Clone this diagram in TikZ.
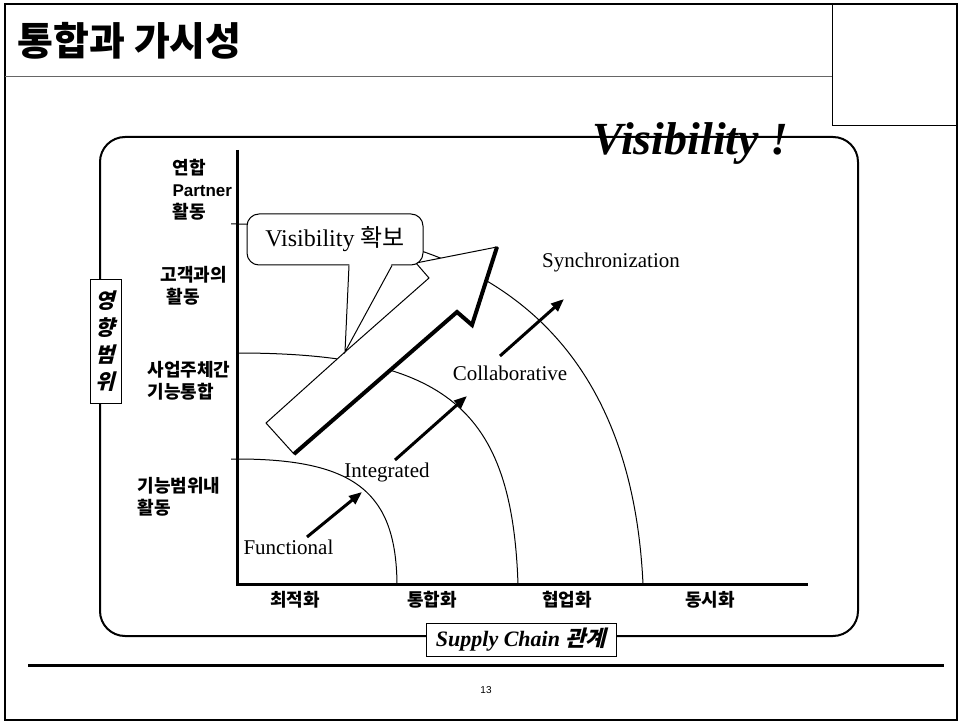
\documentclass[tikz,border=0pt]{standalone}
\usepackage{fontspec}
\setmainfont{Liberation Serif}
\newfontfamily\arial{Liberation Sans}
\newfontfamily\cjk{Noto Sans CJK KR}
\newfontfamily\cjkit{Noto Sans CJK KR}[FakeSlant=0.25]
\usetikzlibrary{arrows.meta}

\tikzset{
  axisline/.style={line width=3pt},
  curveline/.style={line width=1pt},
  growarrow/.style={line width=3pt,-{Triangle[length=13pt,width=10pt]}},
  stagelab/.style={font=\fontsize{21}{21}\selectfont},
  ylab/.style={font=\cjk\bfseries\fontsize{18}{22}\selectfont, align=left, anchor=west},
  xlab/.style={font=\cjk\bfseries\fontsize{18}{18}\selectfont},
  labbox/.style={draw, fill=white, line width=1pt, inner sep=0pt},
}

\begin{document}
\begin{tikzpicture}[x=1pt,y=-1pt]
  \useasboundingbox (0,0) rectangle (959,722);
  % frame of the page
  \draw[line width=1.5pt] (5,4) rectangle (957,720);
  \draw[line width=0.8pt] (832,4) rectangle (957,125);
  \draw[line width=0.8pt, black!60] (5,76) -- (832,76);
  \draw[line width=3pt] (28,665) -- (944,665);

  \node[anchor=west, font=\cjk\bfseries\fontsize{39}{39}\selectfont] (title) at (14,41) {통합과 가시성};
  \node[anchor=base east, font=\bfseries\itshape\fontsize{46}{46}\selectfont] (visib) at (792,155) {Visibility !};

  \draw[line width=2pt, rounded corners=25pt] (100,137) rectangle (858,636);

  % curves
  \draw[curveline] (231,459) -- (237,459) .. controls (357,459) and (396,494) .. (397,584);
  \draw[curveline] (237,353) .. controls (448,353) and (512,410) .. (518,584);
  \draw[curveline] (231,224) -- (237,224) .. controls (501,224) and (632,350) .. (643,584);

  % axes
  \draw[axisline] (237,150) -- (237,584) -- (808,584);

  % the big arrow
  \coordinate (ctip) at (345,352);
  \filldraw[fill=white, line width=1pt] (266,423) -- (ctip) -- (429,278) -- (416,263) -- (497,247)
      -- (472,325) -- (457,312) -- (294,454) -- cycle;
  \draw[line width=4pt] (294,454) -- (457,312) -- (472,325) -- (497,247);

  % callout
  \node[draw, fill=white, line width=1pt, rounded corners=12pt, minimum width=176pt, minimum height=51pt,
        font=\fontsize{24}{24}\selectfont] (callout) at (335,239.5) {Visibility {\cjk 확보}};
  \fill[white] ([xshift=14.5pt,yshift=1.5pt]callout.south) -- (ctip) -- ([xshift=56.5pt,yshift=1.5pt]callout.south) -- cycle;
  \draw[line width=1pt] ([xshift=14pt]callout.south) -- (ctip) -- ([xshift=57pt]callout.south);

  % stage labels and arrows
  \node[stagelab, anchor=west] (funclab) at (240,547) {Functional};
  \node[stagelab] (intlab) at (387,472) {Integrated};
  \node[stagelab] (collab) at (510,373) {Collaborative};
  \node[stagelab] (synclab) at (611,262) {Synchronization};
  \coordinate (f0) at (307,537); \coordinate (f1) at (362,492);
  \coordinate (i0) at (395,460); \coordinate (i1) at (467,396);
  \coordinate (c0) at (500,356); \coordinate (c1) at (564,299);
  \draw[growarrow] (f0) -- (f1);
  \draw[growarrow] (i0) -- (i1);
  \draw[growarrow] (c0) -- (c1);

  % y axis labels
  \node[ylab] (yl4) at (169,190) {연합\\{\arial\fontsize{17}{22}\selectfont Partner}\\활동};
  \node[ylab] (yl3) at (157,286) {고객과의\\\hspace{6pt}활동};
  \node[ylab] (yl2) at (144,381) {사업주체간\\기능통합};
  \node[ylab] (yl1) at (134,497) {기능범위내\\활동};

  % x axis labels
  \node[xlab] (xl1) at (295,600) {최적화};
  \node[xlab] (xl2) at (432,600) {통합화};
  \node[xlab] (xl3) at (567,600) {협업화};
  \node[xlab] (xl4) at (710,600) {동시화};

  % axis titles
  \node[labbox, minimum width=31pt, minimum height=123pt, align=center,
        font=\cjkit\bfseries\fontsize{21}{27}\selectfont] (ytitle) at (105.5,341.5) {영\\향\\범\\위};
  \node[labbox, minimum width=190pt, minimum height=33pt,
        font=\bfseries\itshape\fontsize{22}{22}\selectfont] (xtitle) at (521,639.5) {Supply Chain {\cjkit\bfseries 관계}};

  \node[font=\arial\fontsize{10}{10}\selectfont] (pagenum) at (486,690) {13};
\end{tikzpicture}
\end{document}
